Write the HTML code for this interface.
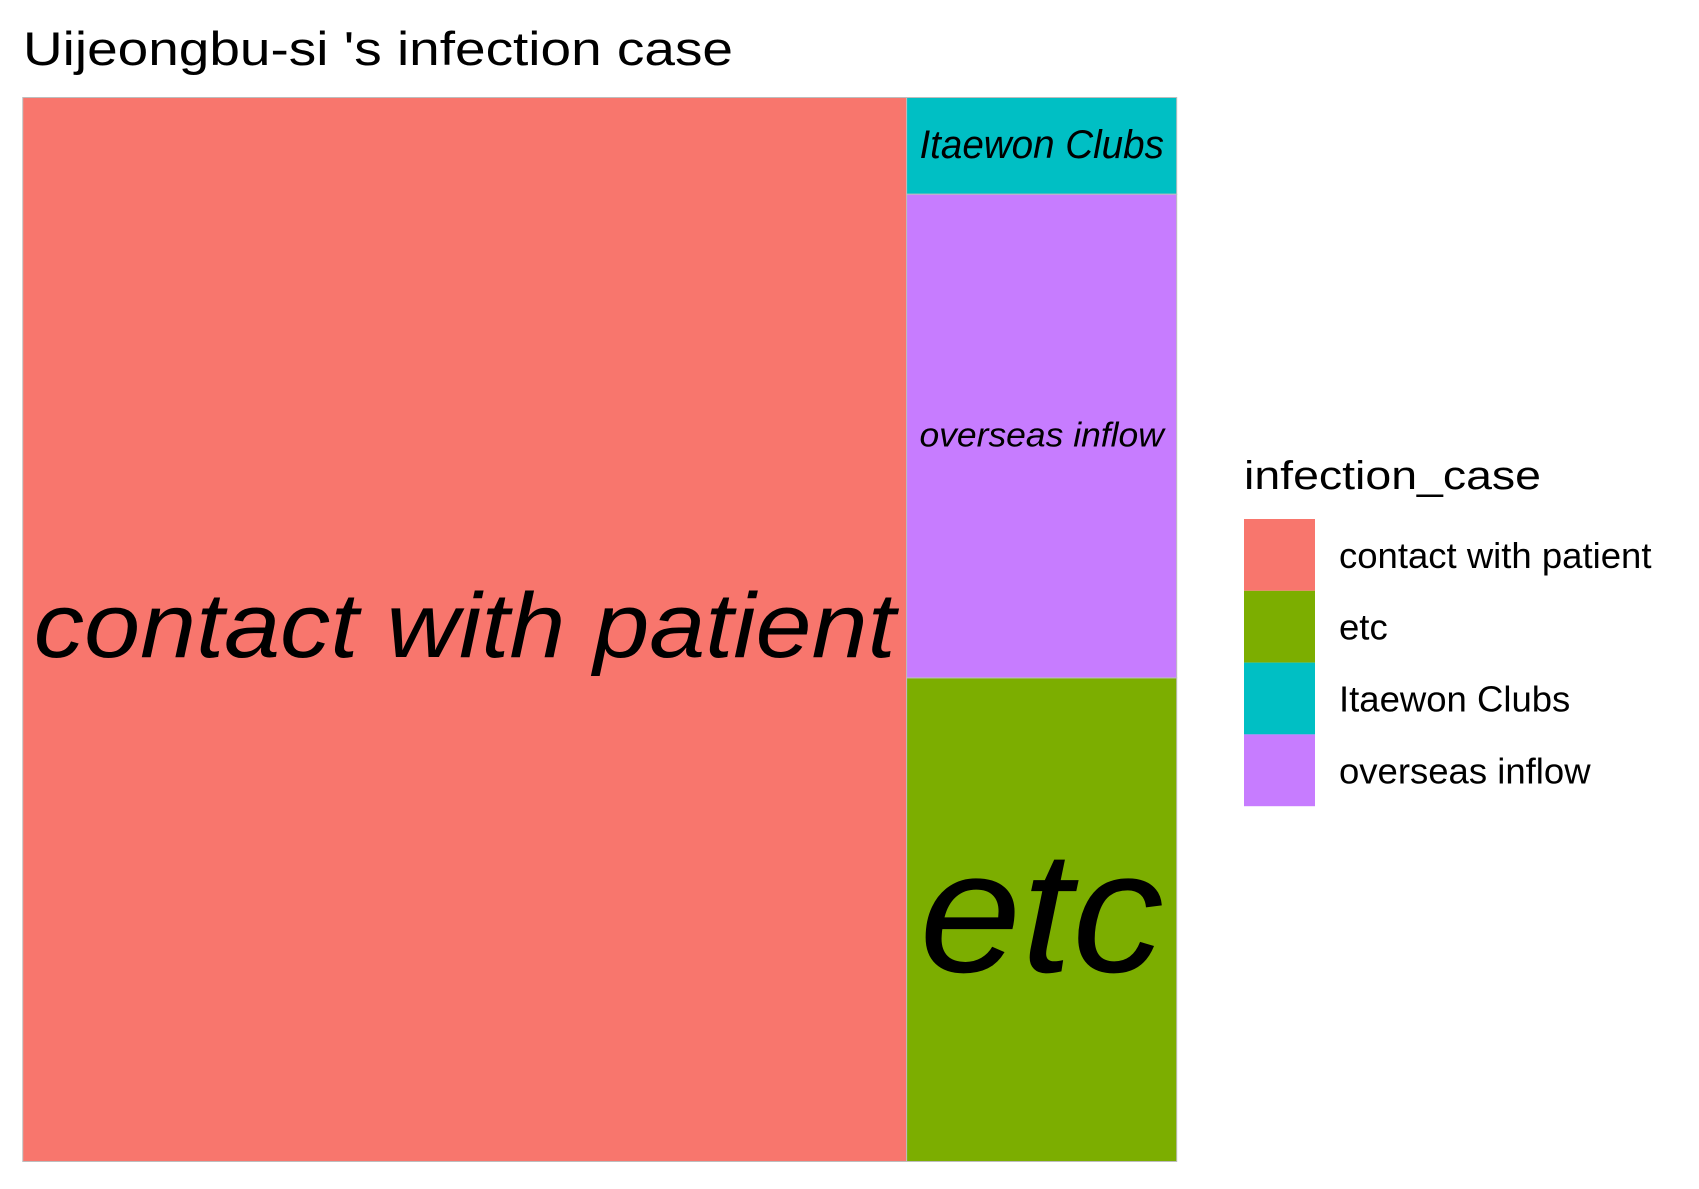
<!DOCTYPE html>
<html><head><meta charset="utf-8"><style>
html,body{margin:0;padding:0;background:#fff;}
svg text{font-family:"Liberation Sans",Arial,sans-serif;}
</style></head><body>
<svg id="chart" width="1699" height="1184" xmlns="http://www.w3.org/2000/svg">
<text x="23" y="65" font-size="47" fill="#000" textLength="710" lengthAdjust="spacingAndGlyphs">Uijeongbu-si 's infection case</text>
<g id="tiles"></g>
<g id="legend">
<text x="1244" y="489" font-size="40" fill="#000" textLength="297" lengthAdjust="spacingAndGlyphs">infection_case</text>
</g>
</svg>
<script>
const categories = ["contact with patient", "etc", "Itaewon Clubs", "overseas inflow"];
const counts = [36, 5, 1, 5];
const colors = ["#F8766D", "#7CAE00", "#00BFC4", "#C77CFF"];
const stackOrder = ["Itaewon Clubs", "overseas inflow", "etc"];

const NS = "http://www.w3.org/2000/svg";
const X0 = 22.75, X1 = 1176.7, Y0 = 97.5, Y1 = 1161.5;
const total = counts.reduce((a, b) => a + b, 0);
const tiles = document.getElementById("tiles");
const legend = document.getElementById("legend");

function mk(tag, attrs, parent) {
  const e = document.createElementNS(NS, tag);
  for (const k in attrs) e.setAttribute(k, attrs[k]);
  parent.appendChild(e);
  return e;
}

const bigIdx = counts.indexOf(Math.max(...counts));
const splitX = X0 + (X1 - X0) * counts[bigIdx] / total;
const layout = [];
layout[bigIdx] = { x: X0, y: Y0, w: splitX - X0, h: Y1 - Y0 };
const restTotal = total - counts[bigIdx];
let cy = Y0;
stackOrder.forEach(name => {
  const i = categories.indexOf(name);
  const h = (Y1 - Y0) * counts[i] / restTotal;
  layout[i] = { x: splitX, y: cy, w: X1 - splitX, h: h };
  cy += h;
});

categories.forEach((cat, i) => {
  const r = layout[i];
  const rect = mk("rect", { x: r.x, y: r.y, width: r.w, height: r.h, fill: colors[i], stroke: "#bdbdbd", "stroke-width": 1 }, tiles);
  
  
  const wf = r.w > 500 ? 0.975 : 0.905;
  const padW = r.w * wf;
  const fs = Math.min(padW / (cat.length * 0.47), r.h * 0.42);
  const tw = Math.min(padW, fs * cat.length * 0.5);
  const t = mk("text", { x: r.x + r.w / 2, y: r.y + r.h / 2 + fs * 0.3, "font-size": fs, "font-style": "italic", "text-anchor": "middle", fill: "#000", textLength: tw, lengthAdjust: "spacingAndGlyphs" }, tiles);
  t.textContent = cat;
  
  
});

const lx = 1244, ly = 519, kh = 71.8, kw = 71;
categories.forEach((cat, i) => {
  const k = mk("rect", { x: lx, y: ly + i * kh, width: kw, height: kh, fill: colors[i] }, legend);
  
  
  const t = mk("text", { x: 1339, y: ly + i * kh + kh / 2 + 13, "font-size": 36.5, fill: "#000" }, legend);
  t.textContent = cat;
  
  
});
</script>
</body></html>
